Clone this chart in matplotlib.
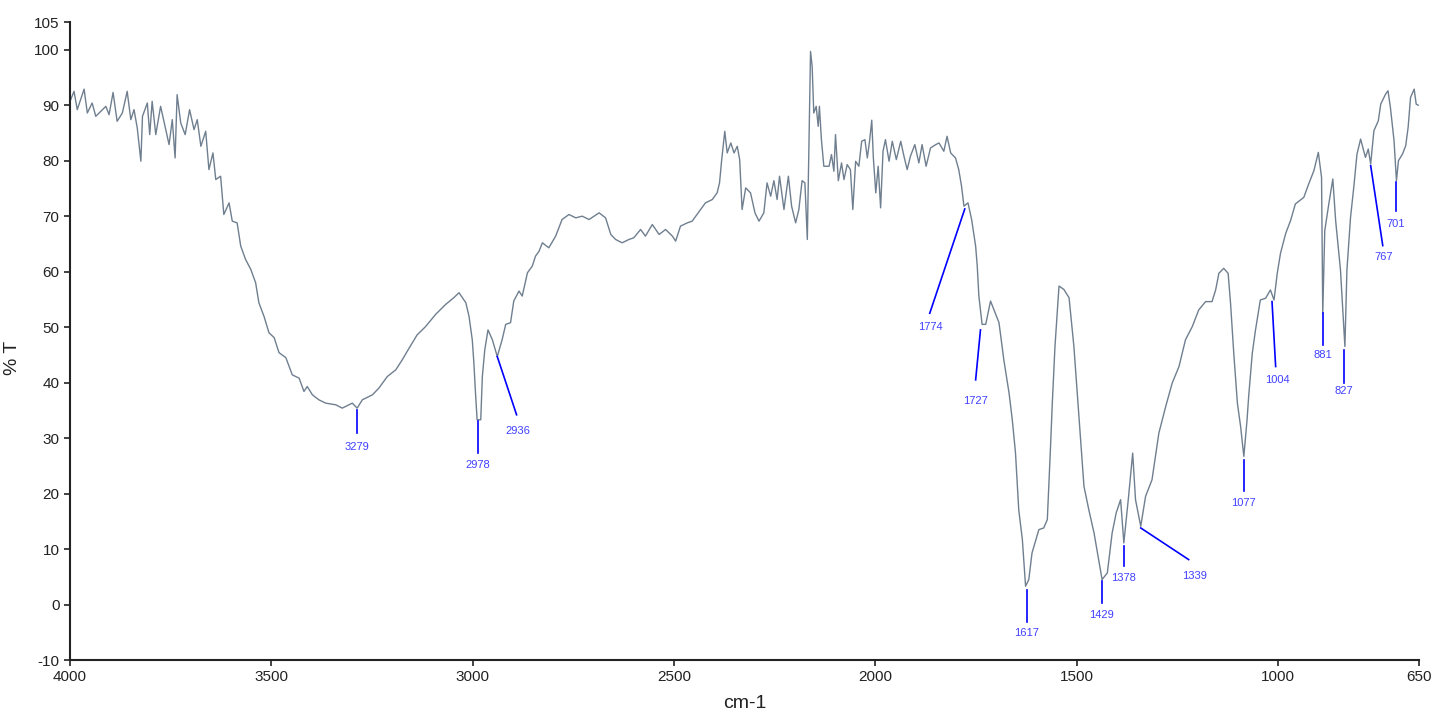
import matplotlib
matplotlib.use("Agg")
import matplotlib.pyplot as plt

# ===================== IR spectrum data =====================
wavenumber = [
    4000, 3990, 3982, 3965, 3957, 3945, 3936, 3911, 3903, 3893, 3883, 3870, 3858, 3849, 3841,
    3833, 3824, 3820, 3808, 3802, 3796, 3787, 3775, 3764, 3754, 3746, 3739, 3734, 3725, 3714,
    3703, 3692, 3684, 3675, 3663, 3655, 3645, 3638, 3626, 3618, 3605, 3597, 3585, 3576, 3564,
    3551, 3539, 3531, 3518, 3506, 3493, 3481, 3464, 3448, 3431, 3419, 3411, 3398, 3382, 3365,
    3340, 3324, 3299, 3287, 3274, 3249, 3233, 3212, 3191, 3175, 3158, 3138, 3117, 3092, 3067,
    3047, 3034, 3017, 3009, 3001, 2997, 2993, 2989, 2980, 2976, 2970, 2962, 2951, 2939, 2927,
    2918, 2906, 2898, 2885, 2877, 2864, 2852, 2844, 2835, 2827, 2811, 2794, 2778, 2761, 2744,
    2728, 2711, 2686, 2670, 2657, 2645, 2629, 2612, 2600, 2583, 2571, 2554, 2537, 2521, 2504,
    2496, 2484, 2467, 2455, 2438, 2422, 2405, 2393, 2387, 2382, 2374, 2368, 2359, 2351, 2343,
    2337, 2331, 2322, 2310, 2299, 2289, 2277, 2269, 2260, 2252, 2244, 2238, 2227, 2216, 2208,
    2198, 2190, 2182, 2175, 2169, 2165, 2161, 2157, 2153, 2147, 2142, 2139, 2134, 2128, 2115,
    2109, 2103, 2099, 2092, 2084, 2078, 2070, 2062, 2056, 2049, 2041, 2034, 2026, 2020, 2014,
    2009, 2005, 1999, 1993, 1987, 1981, 1975, 1966, 1958, 1948, 1937, 1929, 1921, 1913, 1902,
    1892, 1884, 1874, 1863, 1850, 1842, 1830, 1822, 1813, 1801, 1793, 1786, 1780, 1770, 1761,
    1751, 1747, 1743, 1735, 1726, 1714, 1702, 1693, 1681, 1668, 1660, 1652, 1644, 1635, 1627,
    1619, 1611, 1594, 1582, 1573, 1565, 1561, 1554, 1544, 1532, 1519, 1507, 1495, 1482, 1470,
    1457, 1437, 1424, 1412, 1402, 1391, 1383, 1372, 1361, 1354, 1341, 1329, 1313, 1296, 1279,
    1263, 1246, 1230, 1213, 1197, 1180, 1164, 1155, 1147, 1135, 1124, 1118, 1110, 1101, 1093,
    1085, 1077, 1073, 1064, 1056, 1044, 1031, 1019, 1010, 1002, 994, 981, 969, 957, 936,
    924, 911, 900, 892, 889, 884, 874, 864, 857, 845, 834, 829, 820, 812, 804,
    795, 783, 776, 770, 762, 751, 745, 733, 727, 721, 712, 706, 701, 691, 683,
    677, 671, 662, 657, 652,
]
transmittance = [
    90.7, 92.5, 89.2, 92.9, 88.6, 90.4, 88.0, 89.8, 88.3, 92.3, 87.1, 88.6, 92.5, 87.4, 89.2,
    85.9, 79.9, 88.0, 90.4, 84.7, 90.7, 84.7, 89.8, 86.2, 82.9, 87.4, 80.5, 91.9, 86.8, 84.7,
    89.2, 85.6, 87.4, 82.6, 85.3, 78.4, 81.4, 76.6, 77.2, 70.3, 72.4, 69.1, 68.8, 64.6, 62.2,
    60.4, 58.0, 54.4, 51.9, 49.0, 48.1, 45.4, 44.5, 41.4, 40.8, 38.4, 39.3, 37.8, 36.9, 36.3,
    36.0, 35.4, 36.3, 35.4, 36.9, 37.8, 39.0, 41.1, 42.3, 44.1, 46.2, 48.6, 50.1, 52.3, 54.1,
    55.3, 56.2, 54.4, 51.9, 47.7, 43.5, 38.1, 33.3, 33.3, 41.1, 45.9, 49.5, 47.7, 44.7, 47.7,
    50.5, 50.8, 54.7, 56.5, 55.6, 59.8, 61.0, 62.8, 63.7, 65.2, 64.3, 66.4, 69.4, 70.3, 69.7,
    70.0, 69.4, 70.6, 69.7, 66.7, 65.8, 65.2, 65.8, 66.1, 67.6, 66.4, 68.5, 66.7, 67.6, 66.4,
    65.5, 68.2, 68.8, 69.1, 70.8, 72.4, 73.0, 74.2, 76.0, 79.9, 85.3, 81.4, 83.2, 81.4, 82.6,
    80.2, 71.2, 75.1, 74.2, 70.6, 69.1, 70.6, 76.0, 73.6, 76.4, 73.0, 77.2, 71.2, 77.2, 71.8,
    68.8, 71.2, 76.4, 76.0, 65.8, 83.2, 99.7, 97.0, 88.6, 89.8, 86.2, 89.8, 83.8, 79.0, 79.0,
    81.1, 78.1, 84.7, 76.4, 79.6, 76.6, 79.3, 78.4, 71.2, 79.9, 79.0, 83.5, 83.8, 80.5, 83.8,
    87.3, 80.5, 74.2, 79.0, 71.5, 81.7, 83.8, 79.9, 83.5, 80.2, 83.5, 80.8, 78.4, 80.8, 82.9,
    79.6, 82.9, 79.0, 82.3, 82.9, 83.2, 81.7, 84.4, 81.4, 80.5, 78.4, 75.4, 71.8, 72.4, 69.4,
    64.6, 61.0, 55.6, 50.5, 50.5, 54.7, 52.5, 50.8, 44.1, 38.1, 33.3, 27.3, 17.1, 11.7, 3.3,
    4.5, 9.3, 13.5, 13.8, 15.3, 28.5, 35.7, 46.5, 57.4, 56.8, 55.3, 46.5, 34.5, 21.3, 17.1,
    12.9, 4.5, 5.7, 12.9, 16.5, 18.9, 11.1, 18.9, 27.3, 18.9, 14.1, 19.5, 22.5, 30.9, 35.7,
    39.9, 42.9, 47.7, 50.1, 53.1, 54.6, 54.6, 56.7, 59.7, 60.6, 59.7, 54.3, 45.3, 36.3, 32.1,
    26.7, 33.3, 37.5, 45.3, 49.5, 54.9, 55.2, 56.7, 54.9, 59.7, 63.3, 66.9, 69.2, 72.2, 73.4,
    75.8, 78.2, 81.5, 77.0, 52.5, 67.4, 72.2, 76.7, 69.2, 60.3, 46.5, 60.3, 69.8, 75.2, 81.2,
    83.9, 80.6, 82.1, 79.4, 85.4, 87.2, 90.2, 92.0, 92.6, 89.6, 83.6, 76.4, 80.0, 81.2, 82.7,
    86.0, 91.4, 92.9, 90.2, 90.0,
]

# peak annotations: leader line start -> end, then label position
peak_labels = ["3279", "2978", "2936", "1774", "1727", "1617", "1429", "1378",
               "1339", "1077", "1004", "881", "827", "767", "701"]
line_x0 = [3287, 2988, 2939, 1778, 1739, 1624, 1438, 1383, 1341, 1085, 1015, 889, 837, 770, 708]
line_y0 = [35.1, 33.0, 44.7, 71.3, 49.5, 2.7, 4.2, 10.5, 13.8, 26.1, 54.6, 52.5, 45.9, 79.1, 76.1]
line_x1 = [3287, 2988, 2891, 1865, 1751, 1624, 1438, 1383, 1222, 1085, 1006, 889, 837, 740, 708]
line_y1 = [31.0, 27.3, 34.2, 52.5, 40.5, -3.1, 0.2, 6.9, 8.1, 20.4, 42.9, 46.8, 39.9, 64.7, 71.0]
text_x = [3287, 2988, 2889, 1863, 1751, 1624, 1438, 1383, 1207, 1085, 1002, 889, 837, 737, 708]
text_y = [29.3, 26.1, 32.1, 51.0, 37.5, -4.3, -1.0, 5.7, 6.1, 19.2, 41.4, 45.9, 39.3, 63.5, 69.5]

x_ticks = [4000, 3500, 3000, 2500, 2000, 1500, 1000, 650]
y_ticks = [-10, 0, 10, 20, 30, 40, 50, 60, 70, 80, 90, 100, 105]

# ===================== drawing =====================
plt.rcParams["font.family"] = ["Liberation Sans Narrow", "Liberation Sans", "DejaVu Sans"]
plt.rcParams["axes.unicode_minus"] = False

fig = plt.figure(figsize=(14.32, 7.13), dpi=100)
ax = fig.add_axes([70 / 1432, 1 - 660 / 713, 1349 / 1432, 638 / 713])

ax.plot(wavenumber, transmittance, color="#6f7f8f", lw=1.0)

for lab, x0, y0, x1, y1, tx, ty in zip(peak_labels, line_x0, line_y0, line_x1, line_y1, text_x, text_y):
    ax.plot([x0, x1], [y0, y1], color="#0000ff", lw=1.2)
    ax.text(tx, ty, lab, ha="center", va="top", color="#4040ff", fontsize=8)

ax.set_xlim(4000, 650)
ax.set_ylim(-10, 105)
ax.set_xticks(x_ticks)
ax.set_yticks(y_ticks)
ax.tick_params(axis="both", labelsize=11, colors="#222222", length=4, width=1.2, direction="out")

for side in ["top", "right"]:
    ax.spines[side].set_visible(False)
for side in ["left", "bottom"]:
    ax.spines[side].set_linewidth(1.5)
    ax.spines[side].set_color("#222222")

ax.set_ylabel("% T", fontsize=14, color="#222222")
ax.yaxis.set_label_coords(-0.036, 0.473)
ax.set_xlabel("cm-1", fontsize=14, color="#222222")
ax.xaxis.set_label_coords(0.5, -0.055)

plt.savefig("out.png", dpi=100)
plt.close()
